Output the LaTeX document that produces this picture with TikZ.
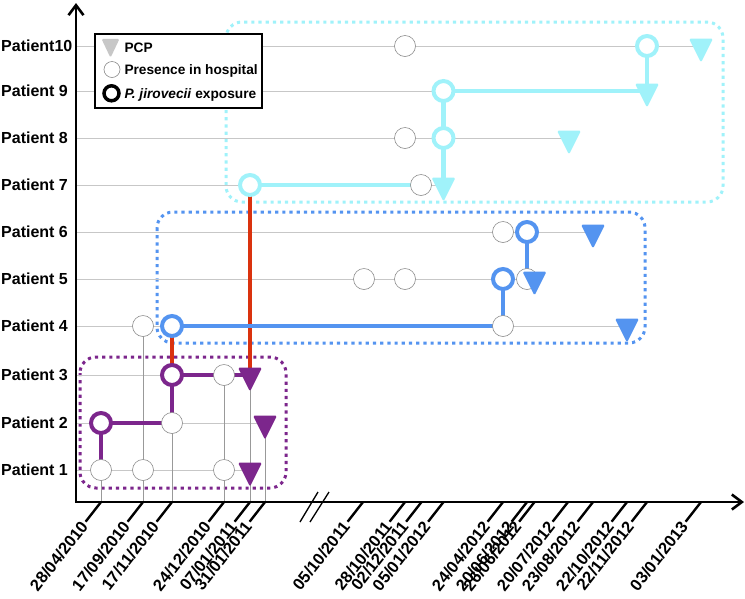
\documentclass[tikz,border=0pt]{standalone}
\usepackage{fontspec}
\setmainfont{Liberation Sans}
\usetikzlibrary{arrows.meta, positioning, shapes.geometric, backgrounds}

\definecolor{jvpurple}{RGB}{124,38,140}
\definecolor{jvred}{RGB}{218,50,14}
\definecolor{jvblue}{RGB}{84,148,240}
\definecolor{jvcyan}{RGB}{160,242,250}

\begin{document}
\begin{tikzpicture}[x=1pt, y=-1pt,
  stay/.style={circle, draw=black!45, line width=0.6pt, fill=white,
               minimum size=21pt, inner sep=0pt},
  expo/.style={circle, draw=#1, line width=4pt, fill=white,
               minimum size=20pt, inner sep=0pt},
  pcp/.style={isosceles triangle, isosceles triangle stretches,
              shape border rotate=-90, fill=#1, minimum width=24pt,
              minimum height=24pt, inner sep=0pt, rounded corners=1.5pt},
  rowline/.style={draw=black!22, line width=0.9pt},
  dateline/.style={draw=black!40, line width=0.7pt},
  chain/.style={draw=#1, line width=4.2pt},
  group/.style={draw=#1, line width=3pt, dash pattern=on 3.2pt off 4pt,
                rounded corners=16pt},
  axis/.style={line width=2.6pt, line join=miter,
               {Straight Barb[length=10pt,width=15pt]}-{Straight Barb[length=10pt,width=15pt]}},
  lab/.style={font=\bfseries\fontsize{16}{18}\selectfont, anchor=base west, inner sep=0pt},
  legtext/.style={font=\bfseries\fontsize{13.7}{16}\selectfont, anchor=base west, inner sep=0pt},
  datelab/.style={font=\bfseries\fontsize{16.5}{18}\selectfont, rotate=52,
                  anchor=east, inner sep=2pt}
]
  \useasboundingbox (0,0) rectangle (745,598);

  % axes
  \coordinate (origin) at (76,502);
  \coordinate (yend) at (76,3);
  \coordinate (xend) at (744,502);
  \draw[axis] (yend) -- (origin) -- (xend);
  \draw[line width=1.3pt] (300,522) -- (318,492) (310,522) -- (329,492);

  % dates
  \foreach \x/\d [count=\i] in {101/{28/04/2010}, 143/{17/09/2010}, 172/{17/11/2010},
      224/{24/12/2010}, 250/{07/01/2011}, 265/{31/01/2011}, 363/{05/10/2011},
      405/{28/10/2011}, 421.5/{02/12/2011}, 443.5/{05/01/2012}, 503/{24/04/2012},
      527/{20/06/2012}, 534.5/{26/06/2012}, 568/{20/07/2012}, 593/{23/08/2012},
      627/{22/10/2012}, 647/{22/11/2012}, 701/{03/01/2013}}
  {
    \coordinate (d\i) at (\x,502);
    \draw[line width=2.4pt] (d\i) -- ++(-15.4,19.7) coordinate (e\i);
    \node[datelab] (t\i) at (e\i) {\d};
  }

  % patients
  \foreach \r/\y/\t in {1/470/{Patient 1}, 2/423/{Patient 2}, 3/375/{Patient 3},
      4/326/{Patient 4}, 5/279/{Patient 5}, 6/232/{Patient 6}, 7/185/{Patient 7},
      8/138/{Patient 8}, 9/91/{Patient 9}, 10/46/{Patient10}}
  {
    \coordinate (a\r) at (76,\y);
    \node[lab] (lab\r) at (1,\y+5.7) {\t};
  }

  % events
  \node[stay] (p1a) at (101,470) {};
  \node[stay] (p1b) at (143,470) {};
  \node[stay] (p1c) at (224,470) {};
  \node[pcp=jvpurple] (p1t) at (250,470) {};

  \node[expo=jvpurple] (p2e) at (101,423) {};
  \node[stay] (p2a) at (172,423) {};
  \node[pcp=jvpurple] (p2t) at (265,423) {};

  \node[expo=jvpurple] (p3e) at (172,375) {};
  \node[stay] (p3a) at (224,375) {};
  \node[pcp=jvpurple] (p3t) at (250,375) {};

  \node[stay] (p4a) at (143,326) {};
  \node[expo=jvblue] (p4e) at (172,326) {};
  \node[stay] (p4b) at (503,326) {};
  \node[pcp=jvblue] (p4t) at (627,326) {};

  \node[stay] (p5a) at (364,279) {};
  \node[stay] (p5b) at (405,279) {};
  \node[stay] (p5c) at (527,279) {};
  \node[expo=jvblue] (p5e) at (503,279) {};
  \node[pcp=jvblue] (p5t) at (534.5,279) {};

  \node[stay] (p6a) at (503,232) {};
  \node[expo=jvblue] (p6e) at (527,232) {};
  \node[pcp=jvblue] (p6t) at (593,232) {};

  \node[expo=jvcyan] (p7e) at (250,185) {};
  \node[stay] (p7a) at (421,185) {};
  \node[pcp=jvcyan] (p7t) at (443.5,185) {};

  \node[stay] (p8a) at (405,138) {};
  \node[expo=jvcyan] (p8e) at (443.5,138) {};
  \node[pcp=jvcyan] (p8t) at (569,138) {};

  \node[expo=jvcyan] (p9e) at (443.5,91) {};
  \node[pcp=jvcyan] (p9t) at (647,91) {};

  \node[stay] (p10a) at (405,46) {};
  \node[expo=jvcyan] (p10e) at (647,46) {};
  \node[pcp=jvcyan] (p10t) at (701,46) {};

  \begin{pgfonlayer}{background}
    \draw[group=jvpurple] (80,357) rectangle (286,488);
    \draw[group=jvblue] (157,212) rectangle (645,343);
    \draw[group=jvcyan] (226,22) rectangle (723,202);

    \draw[rowline] (a1) -- (p1t.center);
    \draw[rowline] (a2) -- (p2t.center);
    \draw[rowline] (a3) -- (p3t.center);
    \draw[rowline] (a4) -- (p4t.center);
    \draw[rowline] (a5) -- (p5t.center);
    \draw[rowline] (a6) -- (p6t.center);
    \draw[rowline] (a7) -- (p7t.center);
    \draw[rowline] (a8) -- (p8t.center);
    \draw[rowline] (a9) -- (p9t.center);
    \draw[rowline] (a10) -- (p10t.center);

    \draw[dateline] (p1a.center) -- (d1);
    \draw[dateline] (p4a.center) -- (d2);
    \draw[dateline] (p3e.center) -- (d3);
    \draw[dateline] (p3a.center) -- (d4);
    \draw[dateline] (p3t.center) -- (d5);
    \draw[dateline] (p2t.center) -- (d6);

    % transmission
    \draw[chain=jvpurple] (p1a.center) -- (p2e.center) -- (p2a.center) -- (p3e.center) -- (p3t.center);
    \draw[chain=jvred] (p4e.center) -- (p3e.center);
    \draw[chain=jvred] (p7e.center) -- (p3t.center);
    \draw[chain=jvblue] (p4e.center) -- (p4b.center) -- (p5e.center);
    \draw[chain=jvblue] (p6e.center) -- (p6e.center |- p5t.north);
    \draw[chain=jvcyan] (p7e.center) -- (p7a.center);
    \draw[chain=jvcyan] (p9e.center) -- (p8e.center) -- (p7t.center);
    \draw[chain=jvcyan] (p9e.center) -- (p9t.center);
    \draw[chain=jvcyan] (p10e.center) -- (p9t.center);
  \end{pgfonlayer}

  % legend
  \node[draw, line width=2pt, fill=white, minimum width=167pt, minimum height=74pt,
        inner sep=0pt] (legend) at (178,70.5) {};
  \node[pcp=black!22, minimum width=18pt, minimum height=19pt] (legpcp) at (110.5,44.5) {};
  \node[stay, minimum size=16pt] (legstay) at (112,69.5) {};
  \node[expo=black, line width=3.5pt, minimum size=15pt] (legexpo) at (111.5,93.3) {};
  \node[legtext] (legpcptxt) at (124.3,52.3) {PCP};
  \node[legtext] (legstaytxt) at (124.3,74) {Presence in hospital};
  \node[legtext] (legexpotxt) at (124.3,98.3) {\textit{P. jirovecii} exposure};
\end{tikzpicture}
\end{document}
